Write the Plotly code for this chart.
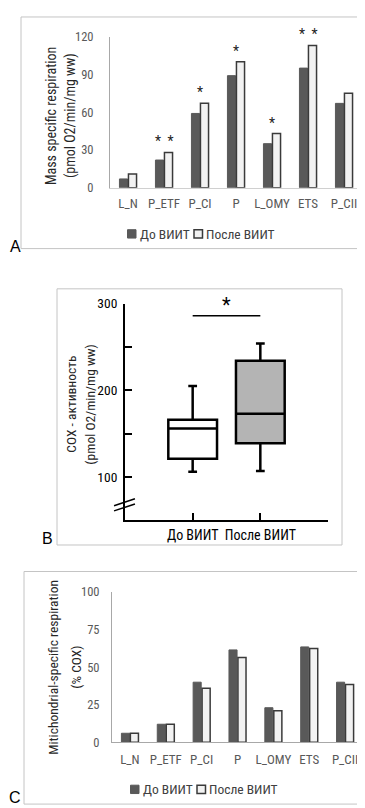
import plotly.graph_objects as go

# ---------------- data ----------------
categories = ["L_N", "P_ETF", "P_CI", "P", "L_OMY", "ETS", "P_CII"]
series_names = ["До ВИИТ", "После ВИИТ"]

# Panel A: mass specific respiration (pmol O2/min/mg ww)
mass_before = [7, 22, 59, 89, 35, 95, 67]
mass_after = [11, 28, 67, 100, 43, 113, 75]
mass_sig = ["", "*\u00a0\u00a0*", "*", "*", "*", "*\u00a0\u00a0*", ""]
mass_title = ["Mass specific respiration", "(pmol O2/min/mg ww)"]

# Panel B: COX activity box plot
box_groups = ["До ВИИТ", "После ВИИТ"]
box_q1 = [121, 139]
box_median = [156, 173]
box_q3 = [166, 234]
box_low = [106, 107]
box_high = [205, 254]
box_fill = ["#ffffff", "#b4b4b4"]
bracket_y = 286
cox_title = ["COX - активность", "(pmol O2/min/mg ww)"]

# Panel C: mitochondrial-specific respiration (% COX)
mito_before = [6, 12, 40, 61.5, 23, 63.5, 40]
mito_after = [6, 12, 36, 56.5, 21, 62.5, 38.5]
mito_title = ["Mitichondrial-specific respiration", "(% COX)"]

# ---------------- helpers ----------------
W, H = 365, 808
def px(x):
    return x / W
def py(y):
    return 1 - y / H

FONT = "Roboto Condensed, Roboto, sans-serif"
DARK = "#595959"
LIGHT = "#f2f2f2"
TICKGRAY = "#595959"

fig = go.Figure()

# ---- Panel A bars ----
fig.add_trace(go.Bar(x=categories, y=mass_before, name=series_names[0],
                     marker=dict(color=DARK, line=dict(color=DARK, width=1)),
                     xaxis="x", yaxis="y", showlegend=False))
fig.add_trace(go.Bar(x=categories, y=mass_after, name=series_names[1],
                     marker=dict(color=LIGHT, line=dict(color="#3a3a3a", width=1.5)),
                     xaxis="x", yaxis="y", showlegend=False))

# ---- Panel B boxes ----
for i, g in enumerate(box_groups):
    fig.add_trace(go.Box(x=[i], q1=[box_q1[i]], median=[box_median[i]], q3=[box_q3[i]],
                         lowerfence=[box_low[i]], upperfence=[box_high[i]],
                         name=g, width=0.72, whiskerwidth=0.18,
                         fillcolor=box_fill[i], line=dict(color="black", width=2.5),
                         boxpoints=False, xaxis="x2", yaxis="y2", showlegend=False))

# ---- Panel C bars ----
fig.add_trace(go.Bar(x=categories, y=mito_before, name=series_names[0],
                     marker=dict(color=DARK, line=dict(color=DARK, width=1)),
                     xaxis="x3", yaxis="y3", showlegend=False))
fig.add_trace(go.Bar(x=categories, y=mito_after, name=series_names[1],
                     marker=dict(color=LIGHT, line=dict(color="#3a3a3a", width=1.5)),
                     xaxis="x3", yaxis="y3", showlegend=False))

shapes = []
annotations = []

# panel frames
for (x0, y0, x1, y1) in [(13, 1, 362, 237), (49, 278, 334, 539), (16, 566, 362, 803)]:
    shapes.append(dict(type="rect", xref="paper", yref="paper",
                       x0=px(x0), x1=px(x1), y0=py(y1), y1=py(y0),
                       line=dict(color="#c4c4c4", width=1), fillcolor="rgba(0,0,0,0)",
                       layer="below"))

# panel letters
for letter, x, y in [("A", 7, 235), ("B", 39, 532), ("C", 7, 796)]:
    annotations.append(dict(text=letter, xref="paper", yref="paper", x=px(x), y=py(y),
                            xanchor="center", yanchor="middle", showarrow=False,
                            font=dict(family="Liberation Sans, Arial, sans-serif", size=16, color="black")))

# rotated y-axis titles (one annotation per line so line spacing matches)
def ytitle(lines, xs, ycen, size):
    for t, x in zip(lines, xs):
        annotations.append(dict(text=t, xref="paper", yref="paper", x=px(x), y=py(ycen),
                                xanchor="center", yanchor="middle", textangle=-90,
                                showarrow=False, font=dict(family=FONT, size=size, color="#262626")))

ytitle(mass_title, [43, 62], 102, 14)
ytitle(cox_title, [63, 82], 396, 13.5)
ytitle(mito_title, [45, 68], 664, 13.5)

# significance stars, panel A
for c, b, a, s in zip(categories, mass_before, mass_after, mass_sig):
    if s:
        annotations.append(dict(text=s, x=c, y=max(b, a), xref="x", yref="y",
                                yanchor="bottom", yshift=1, showarrow=False,
                                font=dict(family=FONT, size=14, color="#222222")))

# panel B bracket + star
shapes.append(dict(type="line", xref="x2", yref="y2", x0=0, x1=1, y0=bracket_y, y1=bracket_y,
                   line=dict(color="black", width=1.5)))
annotations.append(dict(text="*", x=0.5, y=bracket_y, xref="x2", yref="y2",
                        yanchor="bottom", yshift=-3, showarrow=False,
                        font=dict(family=FONT, size=20, color="black")))
# axis break marks
for dy in (0, 6):
    shapes.append(dict(type="line", xref="x2 domain", yref="y2",
                       x0=-0.054, x1=0.049, y0=61 + dy, y1=69 + dy,
                       line=dict(color="black", width=1.5)))

# custom legends
def legend(x_left, y_mid):
    sq = 8.5
    shapes.append(dict(type="rect", xref="paper", yref="paper",
                       x0=px(x_left), x1=px(x_left + sq), y0=py(y_mid + sq / 2), y1=py(y_mid - sq / 2),
                       fillcolor=DARK, line=dict(color=DARK, width=1)))
    annotations.append(dict(text=series_names[0], xref="paper", yref="paper",
                            x=px(x_left + sq + 1.5), y=py(y_mid), xanchor="left", yanchor="middle",
                            showarrow=False, font=dict(family=FONT, size=13.5, color="#404040")))
    x2 = x_left + 66.5
    shapes.append(dict(type="rect", xref="paper", yref="paper",
                       x0=px(x2), x1=px(x2 + sq), y0=py(y_mid + sq / 2), y1=py(y_mid - sq / 2),
                       fillcolor=LIGHT, line=dict(color="#3a3a3a", width=1.5)))
    annotations.append(dict(text=series_names[1], xref="paper", yref="paper",
                            x=px(x2 + sq + 1.5), y=py(y_mid), xanchor="left", yanchor="middle",
                            showarrow=False, font=dict(family=FONT, size=13.5, color="#404040")))

legend(119.5, 222)
legend(122.5, 788)

bar_tickfont = dict(family=FONT, size=13, color=TICKGRAY)

fig.update_layout(
    width=W, height=H,
    margin=dict(l=0, r=0, t=0, b=0),
    paper_bgcolor="white", plot_bgcolor="white",
    barmode="group", bargap=0.5, bargroupgap=0.1,
    font=dict(family=FONT, color="#404040"),
    shapes=shapes, annotations=annotations,
    xaxis=dict(domain=[px(102), px(354)], anchor="y", type="category",
               showline=True, linecolor="#d0d0d0", linewidth=1, ticks="",
               tickfont=bar_tickfont, ticklabelstandoff=4, showgrid=False),
    yaxis=dict(domain=[py(175), py(21)], anchor="x", range=[0, 120],
               tickvals=[0, 30, 60, 90, 120], showline=True, linecolor="#a8a8a8", linewidth=1,
               ticks="", showgrid=False, zeroline=False,
               tickfont=dict(family=FONT, size=12.5, color=TICKGRAY), ticklabelstandoff=13),
    xaxis2=dict(domain=[px(117), px(320)], anchor="y2", range=[-1, 2],
                showline=True, linecolor="black", linewidth=2,
                ticks="inside", ticklen=7, tickwidth=2, tickcolor="black",
                tickvals=[0, 1, 2], ticktext=[box_groups[0], box_groups[1], ""],
                tickfont=dict(family=FONT, size=14, color="black"), ticklabelstandoff=1,
                showgrid=False, zeroline=False),
    yaxis2=dict(domain=[py(514), py(293)], anchor="x2", range=[50, 300],
                showline=True, linecolor="black", linewidth=2,
                ticks="inside", ticklen=7, tickwidth=2, tickcolor="black",
                tickvals=[100, 150, 200, 250, 300], ticktext=["100", "", "200", "", "300"],
                tickfont=dict(family=FONT, size=13.5, color="black"), ticklabelstandoff=3,
                showgrid=False, zeroline=False),
    xaxis3=dict(domain=[px(104), px(355)], anchor="y3", type="category",
                showline=True, linecolor="#a8a8a8", linewidth=1, ticks="",
                tickfont=bar_tickfont, ticklabelstandoff=5, showgrid=False),
    yaxis3=dict(domain=[py(740), py(587)], anchor="x3", range=[0, 100],
                tickvals=[0, 25, 50, 75, 100], showline=True, linecolor="#a8a8a8", linewidth=1,
                ticks="", showgrid=False, zeroline=False,
                tickfont=dict(family=FONT, size=12.5, color=TICKGRAY), ticklabelstandoff=9),
)

fig.write_html("out.html")
